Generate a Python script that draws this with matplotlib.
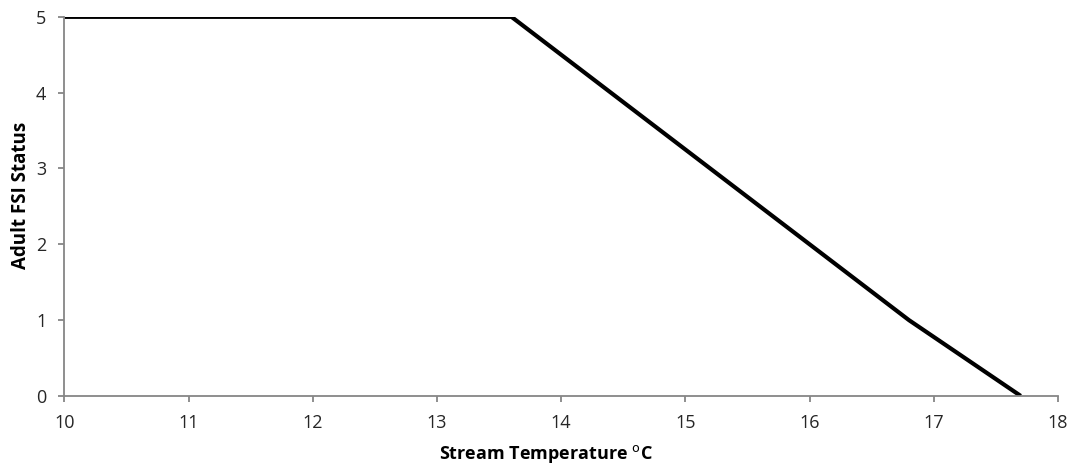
import matplotlib
matplotlib.use('Agg')
import matplotlib.pyplot as plt

# FSI status curve vs stream temperature
temp = [10.0, 13.6, 16.8, 17.7]
status = [5.0, 5.0, 1.0, 0.0]
xticks = [10, 11, 12, 13, 14, 15, 16, 17, 18]
yticks = [0, 1, 2, 3, 4, 5]

plt.rcParams['font.family'] = ['Open Sans', 'DejaVu Sans']
axis_grey = '#868686'

fig = plt.figure(figsize=(10.73, 4.68), dpi=100)
ax = fig.add_axes([0.060, 0.154, 0.926, 0.810])
ax.plot(temp, status, color='black', lw=3.0, solid_capstyle='butt', solid_joinstyle='miter')

ax.set_xlim(10, 18)
ax.set_ylim(0, 5)
ax.set_xticks(xticks)
ax.set_yticks(yticks)
for s in ['top', 'right']:
    ax.spines[s].set_visible(False)
for s in ['left', 'bottom']:
    ax.spines[s].set_color(axis_grey)
    ax.spines[s].set_linewidth(1.3)
ax.tick_params(direction='out', length=4, width=1.3, color=axis_grey,
               labelsize=13, labelcolor='#262626')
ax.tick_params(axis='x', pad=9)
ax.tick_params(axis='y', pad=9)
ax.set_xlabel('Stream Temperature $^{\\mathrm{o}}$C', fontsize=13, fontweight='bold')
ax.set_ylabel('Adult FSI Status', fontsize=13.5, fontweight='bold')
ax.xaxis.set_label_coords(0.485, -0.125)
ax.yaxis.set_label_coords(-0.034, 0.53)

fig.savefig('out.png', dpi=100)
